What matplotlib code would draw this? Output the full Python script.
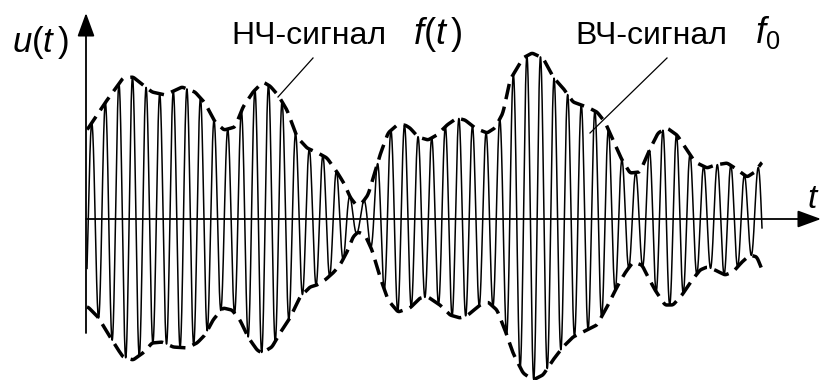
import numpy as np
import matplotlib
matplotlib.use("Agg")
import matplotlib.pyplot as plt

plt.rcParams['font.family'] = ['Liberation Sans', 'DejaVu Sans']
plt.rcParams['mathtext.fontset'] = 'custom'
plt.rcParams['mathtext.rm'] = 'Liberation Sans'
plt.rcParams['mathtext.it'] = 'Liberation Sans:italic'

# envelope (time units, amplitude units)
upper_t = [0.01, 0.19, 0.37, 0.47, 0.57, 0.66, 0.79, 0.96, 1.09, 1.19, 1.29, 1.38,
           1.49, 1.57, 1.67, 1.77, 1.84, 1.92, 2.01, 2.11, 2.21, 2.32, 2.41, 2.51,
           2.59, 2.64, 2.70, 2.76, 2.82, 2.86, 2.94, 3.02, 3.11, 3.19, 3.24, 3.32,
           3.42, 3.51, 3.61, 3.71, 3.79, 3.89, 4.01, 4.09, 4.17, 4.24, 4.37, 4.46,
           4.57, 4.67, 4.77, 4.87, 5.01, 5.11, 5.19, 5.27, 5.36, 5.44, 5.54, 5.62,
           5.72, 5.81, 5.91, 6.01, 6.09, 6.21, 6.29, 6.41, 6.49, 6.61, 6.69, 6.76]
upper_v = [0.89, 1.16, 1.41, 1.42, 1.34, 1.27, 1.24, 1.32, 1.27, 1.16, 0.97, 0.89,
           0.92, 1.12, 1.27, 1.37, 1.33, 1.24, 1.09, 0.82, 0.71, 0.66, 0.61, 0.47,
           0.34, 0.22, 0.14, 0.16, 0.24, 0.37, 0.64, 0.86, 0.94, 0.94, 0.91, 0.82,
           0.79, 0.84, 0.94, 1.01, 0.99, 0.91, 0.86, 0.91, 1.06, 1.39, 1.61, 1.66,
           1.61, 1.42, 1.31, 1.17, 1.12, 1.07, 0.97, 0.79, 0.59, 0.46, 0.47, 0.66,
           0.86, 0.91, 0.84, 0.69, 0.57, 0.51, 0.54, 0.56, 0.51, 0.42, 0.47, 0.57]

lower_t = [0.02, 0.12, 0.21, 0.31, 0.37, 0.47, 0.57, 0.66, 0.76, 0.87, 1.01, 1.11,
           1.19, 1.27, 1.37, 1.46, 1.54, 1.62, 1.71, 1.76, 1.86, 1.94, 2.04, 2.14,
           2.24, 2.31, 2.39, 2.47, 2.54, 2.61, 2.67, 2.72, 2.79, 2.86, 2.94, 3.02,
           3.12, 3.24, 3.34, 3.42, 3.54, 3.64, 3.74, 3.82, 3.94, 4.02, 4.11, 4.19,
           4.27, 4.37, 4.47, 4.57, 4.67, 4.77, 4.87, 5.01, 5.11, 5.21, 5.31, 5.39,
           5.47, 5.56, 5.62, 5.69, 5.79, 5.87, 5.96, 6.04, 6.14, 6.21, 6.29, 6.39,
           6.47, 6.56, 6.64, 6.71, 6.76]
lower_v = [-0.88, -0.98, -1.13, -1.29, -1.38, -1.41, -1.34, -1.24, -1.23, -1.28, -1.29, -1.24,
           -1.16, -1.01, -0.89, -0.91, -1.01, -1.18, -1.31, -1.34, -1.28, -1.14, -0.99, -0.78,
           -0.68, -0.66, -0.61, -0.54, -0.46, -0.33, -0.18, -0.13, -0.16, -0.31, -0.58, -0.81,
           -0.93, -0.89, -0.79, -0.78, -0.86, -0.96, -0.99, -0.96, -0.86, -0.83, -0.91, -1.11,
           -1.34, -1.54, -1.61, -1.56, -1.41, -1.28, -1.18, -1.11, -1.06, -0.88, -0.68, -0.54,
           -0.43, -0.46, -0.58, -0.71, -0.86, -0.86, -0.76, -0.64, -0.51, -0.48, -0.51, -0.56,
           -0.53, -0.43, -0.36, -0.38, -0.51]

carrier_period = 0.136
carrier_first_peak = 0.057

labels = ["НЧ-сигнал", r"$f(t\,)$", "ВЧ-сигнал", r"$f_0$"]


def smooth(y, n=31):
    pad = np.pad(y, n, mode='edge')
    k = np.ones(n) / n
    return np.convolve(pad, k, mode='same')[n:-n]


t = np.linspace(upper_t[0], upper_t[-1], 6000)
up = smooth(np.interp(t, upper_t, upper_v))
lo = smooth(np.interp(t, lower_t, lower_v))
mid = (up + lo) / 2
half = (up - lo) / 2
u = mid + half * np.cos(2 * np.pi * (t - carrier_first_peak) / carrier_period)

fig = plt.figure(figsize=(8.21, 3.8), dpi=100)
ax = fig.add_axes([0, 0, 1, 1])
ax.set_xlim(-0.86, 7.35)
ax.set_ylim(-1.61, 2.19)
ax.axis('off')

ax.plot(t, u, color='black', lw=1.1)
ax.plot(t, up, color='black', lw=2.5, dashes=(4.5, 2.2))
ax.plot(t, lo, color='black', lw=2.5, dashes=(4.5, 2.2))

# axes with arrows
arrow = dict(arrowstyle='-|>,head_length=0.6,head_width=0.22', lw=1.3,
             color='black', mutation_scale=24, shrinkA=0, shrinkB=0)
ax.annotate('', xy=(0, 2.06), xytext=(0, -1.14), arrowprops=arrow)
ax.annotate('', xy=(7.35, 0), xytext=(0, 0), arrowprops=arrow)

ax.text(-0.74, 1.67, r"$u(t\,)$", fontsize=25, ha='left', va='baseline')
ax.text(7.21, 0.11, r"$t$", fontsize=24, ha='left', va='baseline')

# captions and leader lines
ax.text(2.225, 1.75, labels[0], fontsize=23, ha='center', va='baseline')
ax.text(3.27, 1.75, labels[1], fontsize=26, ha='left', va='baseline')
ax.text(5.655, 1.75, labels[2], fontsize=23, ha='center', va='baseline')
ax.text(6.69, 1.76, labels[3], fontsize=26, ha='left', va='baseline')
ax.plot([2.27, 1.92], [1.61, 1.22], color='black', lw=0.9)
ax.plot([5.81, 5.04], [1.61, 0.86], color='black', lw=0.9)

fig.savefig("out.png", dpi=100)
